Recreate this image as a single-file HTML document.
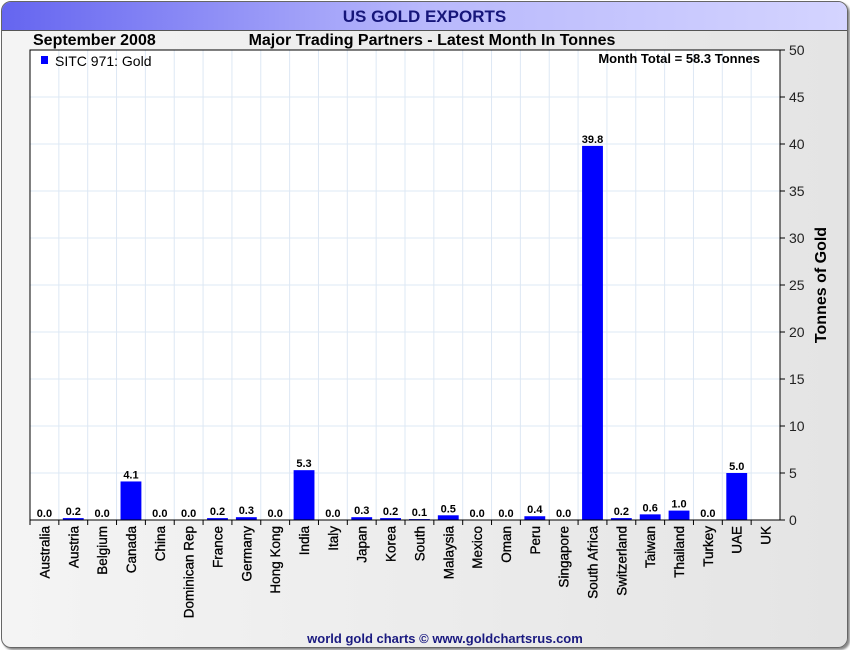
<!DOCTYPE html>
<html><head><meta charset="utf-8"><style>
body{margin:0;width:850px;height:650px;overflow:hidden;background:#fff;font-family:"Liberation Sans",sans-serif}
#frame{position:absolute;left:1px;top:1px;width:845px;height:645px;border:1px solid #666;border-radius:10px;background:linear-gradient(90deg,#f4f4f4,#e4e4e4);box-shadow:2px 2px 2px #888;overflow:hidden}
#titlebar{position:absolute;left:0;top:0;width:845px;height:28px;background:linear-gradient(90deg,#6565f0,#b8b8fc 50%,#d4d4ff);border-bottom:1px solid #555;text-align:center;font-weight:bold;font-size:17px;line-height:30px;color:#16167a}
</style></head><body>
<div id="frame">
<div id="titlebar">US GOLD EXPORTS</div>
</div>
<svg id="chart" width="850" height="650" style="position:absolute;left:0;top:0" font-family="Liberation Sans, sans-serif"></svg>
<script>
const categories=["Australia","Austria","Belgium","Canada","China","Dominican Rep","France","Germany","Hong Kong","India","Italy","Japan","Korea","South","Malaysia","Mexico","Oman","Peru","Singapore","South Africa","Switzerland","Taiwan","Thailand","Turkey","UAE","UK"];
const values=[0.0,0.2,0.0,4.1,0.0,0.0,0.2,0.3,0.0,5.3,0.0,0.3,0.2,0.1,0.5,0.0,0.0,0.4,0.0,39.8,0.2,0.6,1.0,0.0,5.0,null];
const yTicks=[0,5,10,15,20,25,30,35,40,45,50];
const L=30,R=780,T=50,B=520,yMax=50;
const svg=document.getElementById('chart');
const NS='http://www.w3.org/2000/svg';
function el(t,a,txt){const e=document.createElementNS(NS,t);for(const k in a)e.setAttribute(k,a[k]);if(txt!=null)e.textContent=txt;svg.appendChild(e);return e;}
const bw=(R-L)/categories.length;
const x=i=>L+i*bw;
const y=v=>B-(v/yMax)*(B-T);
let bg=el('rect',{x:L,y:T,width:R-L,height:B-T,fill:'#fff'});


yTicks.forEach(t=>{
 let g=el('line',{x1:L,x2:R,y1:y(t),y2:y(t),stroke:'#dde8f4'});
 
 
 let tk=el('line',{x1:R,x2:R+5,y1:y(t),y2:y(t),stroke:'#000'});
 
 
 let lb=el('text',{x:R+9,y:y(t)+5,'font-size':14,fill:'#222'},t);
 
 
});
categories.forEach((c,i)=>{
 if(i>0){let g=el('line',{x1:x(i),x2:x(i),y1:T,y2:B,stroke:'#dde8f4'});
 
 }
 let tk=el('line',{x1:x(i),x2:x(i),y1:B,y2:B+5,stroke:'#000'});
 
 
 const cx=x(i)+bw/2;
 let lb=el('text',{x:0,y:0,'font-size':13.5,fill:'#000',stroke:'#000','stroke-width':0.3,'text-anchor':'end',transform:`translate(${cx+5},${B+6}) rotate(-90)`},c);
 
 
 const v=values[i];
 if(v!=null){
  let b=el('rect',{x:x(i)+4,y:y(v),width:bw-8,height:Math.max(B-y(v),0.0001),fill:'#0000ff'});
  
  
  let vl=el('text',{x:cx,y:y(v)-3,'font-size':11,'font-weight':'bold','text-anchor':'middle',fill:'#000'},v.toFixed(1));
  
  
 }
});
let fr=el('rect',{x:L,y:T,width:R-L,height:B-T,fill:'none',stroke:'#000'});


let t1=el('text',{x:33,y:45,'font-size':16,'font-weight':'bold'},'September 2008');


let t2=el('text',{x:432,y:45,'font-size':16,'font-weight':'bold','text-anchor':'middle'},'Major Trading Partners - Latest Month In Tonnes');


let lg=el('rect',{x:41,y:56,width:7,height:8,fill:'#0000ff'});


let lt=el('text',{x:55,y:66,'font-size':14},'SITC 971: Gold');


let mt=el('text',{x:760,y:63,'font-size':13,'font-weight':'bold','text-anchor':'end'},'Month Total = 58.3 Tonnes');


let yt=el('text',{x:0,y:0,'font-size':16,'font-weight':'bold','text-anchor':'middle',transform:'translate(826,285) rotate(-90)'},'Tonnes of Gold');


let ft=el('text',{x:445,y:643,'font-size':13,'font-weight':'bold','text-anchor':'middle',fill:'#1a1a80'},'world gold charts © www.goldchartsrus.com');


</script>
</body></html>
